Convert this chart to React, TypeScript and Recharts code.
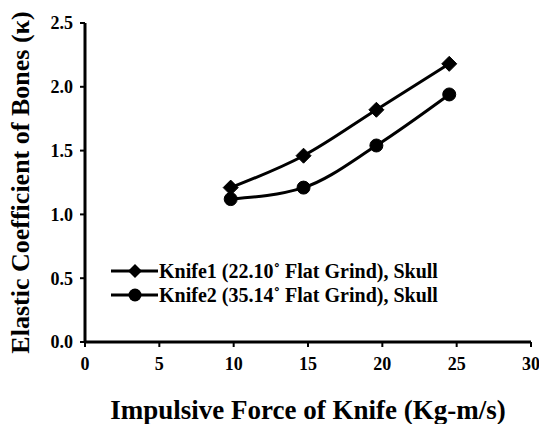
import React from "react";
import { LineChart, Line, XAxis, YAxis } from "recharts";

const impulse = [9.8, 14.7, 19.6, 24.5];
const knife1 = [1.21, 1.46, 1.82, 2.18];
const knife2 = [1.12, 1.21, 1.54, 1.94];
const xTicks = [0, 5, 10, 15, 20, 25, 30];
const yTicks = [0, 0.5, 1.0, 1.5, 2.0, 2.5];
const seriesNames = [
  "Knife1 (22.10˚ Flat Grind), Skull",
  "Knife2 (35.14˚ Flat Grind), Skull",
];

const data = impulse.map((x, i) => ({ x, k1: knife1[i], k2: knife2[i] }));

const FONT = "'Liberation Serif', 'Times New Roman', serif";

const Diamond = (props: any) => {
  const { cx, cy } = props;
  if (cx == null || cy == null) return null;
  const s = 7.5;
  return (
    <polygon
      points={`${cx},${cy - s} ${cx + s},${cy} ${cx},${cy + s} ${cx - s},${cy}`}
      fill="#000"
      stroke="#000"
      strokeWidth={1}
    />
  );
};

const Dot = (props: any) => {
  const { cx, cy } = props;
  if (cx == null || cy == null) return null;
  return <circle cx={cx} cy={cy} r={6.5} fill="#000" stroke="#000" />;
};

const LegendBox = () => (
  <div
    style={{
      position: "absolute",
      left: 111,
      top: 259,
      fontFamily: FONT,
      fontWeight: "bold",
      fontSize: 20,
      color: "#000",
      whiteSpace: "nowrap",
    }}
  >
    {seriesNames.map((name, i) => (
      <div key={name} style={{ display: "flex", alignItems: "center", height: 24 }}>
        <svg width={47} height={16} style={{ marginRight: 1 }}>
          <line x1={0} y1={8} x2={47} y2={8} stroke="#000" strokeWidth={3} />
          {i === 0 ? (
            <polygon points="24,1 31,8 24,15 17,8" fill="#000" />
          ) : (
            <circle cx={24} cy={8} r={6.5} fill="#000" />
          )}
        </svg>
        <span>{name}</span>
      </div>
    ))}
  </div>
);

export default function App() {
  return (
    <div style={{ position: "absolute", left: 0, top: 0, width: 539, height: 424, background: "#fff" }}>
      <LineChart
        width={539}
        height={424}
        data={data}
        margin={{ top: 23, right: 8, bottom: 0, left: 0 }}
      >
        <XAxis
          dataKey="x"
          type="number"
          domain={[0, 30]}
          ticks={xTicks}
          interval={0}
          stroke="#000"
          strokeWidth={3}
          tickSize={5}
          tickMargin={10}
          tick={{ fill: "#000", fontFamily: FONT, fontWeight: "bold", fontSize: 18 }}
          tickLine={{ stroke: "#000", strokeWidth: 2 }}
          height={82}
          label={{
            value: "Impulsive Force of Knife (Kg-m/s)",
            position: "insideBottom",
            offset: 5,
            fill: "#000",
            fontFamily: FONT,
            fontWeight: "bold",
            fontSize: 27,
          }}
        />
        <YAxis
          type="number"
          domain={[0, 2.5]}
          ticks={yTicks}
          interval={0}
          width={85}
          stroke="#000"
          strokeWidth={3}
          tickSize={5}
          tickMargin={7}
          tickFormatter={(v: number) => v.toFixed(1)}
          tick={{ fill: "#000", fontFamily: FONT, fontWeight: "bold", fontSize: 18 }}
          tickLine={{ stroke: "#000", strokeWidth: 2 }}
          label={{
            value: "Elastic Coefficient of Bones (κ)",
            angle: -90,
            position: "insideLeft",
            offset: 20,
            style: { textAnchor: "middle" },
            fill: "#000",
            fontFamily: FONT,
            fontWeight: "bold",
            fontSize: 26,
          }}
        />
        <Line
          dataKey="k1"
          name={seriesNames[0]}
          type="monotone"
          stroke="#000"
          strokeWidth={3}
          dot={<Diamond />}
          activeDot={false}
          isAnimationActive={false}
        />
        <Line
          dataKey="k2"
          name={seriesNames[1]}
          type="monotone"
          stroke="#000"
          strokeWidth={3}
          dot={<Dot />}
          activeDot={false}
          isAnimationActive={false}
        />
      </LineChart>
      <LegendBox />
    </div>
  );
}
